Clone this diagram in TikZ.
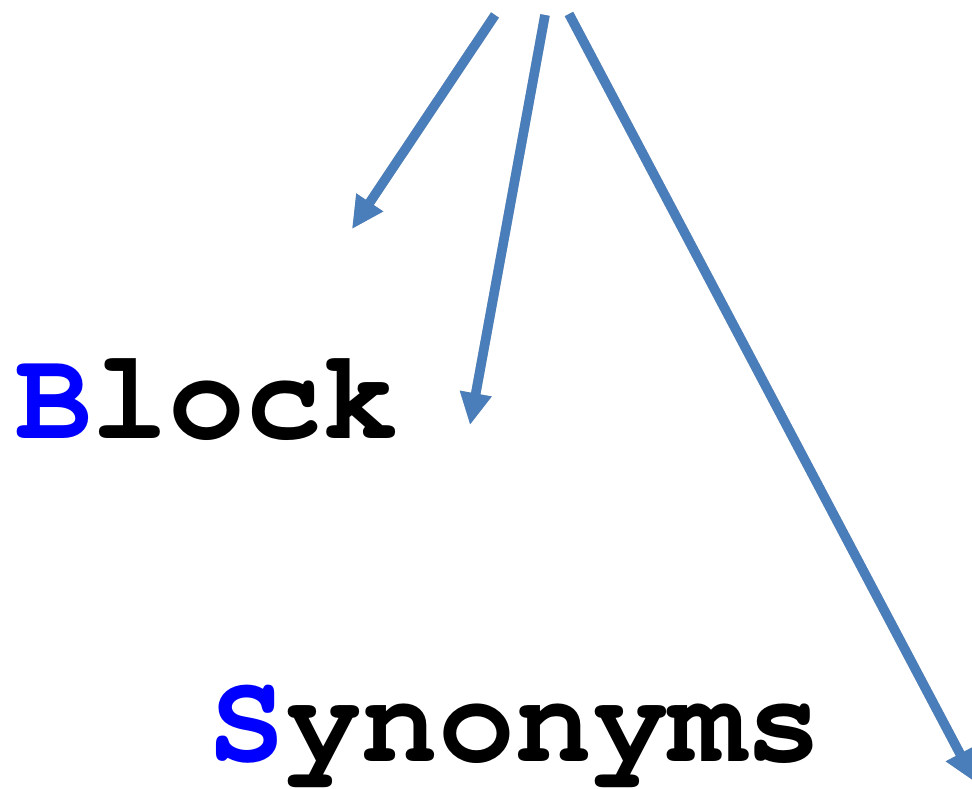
\documentclass[tikz,border=0pt]{standalone}
\usepackage{fontspec}
\setmonofont{TeX Gyre Cursor}
\usetikzlibrary{arrows.meta}
\definecolor{arrowblue}{RGB}{74,126,187}
\definecolor{letterblue}{RGB}{0,0,255}
\tikzset{
  arr/.style={draw=arrowblue, line width=9.5pt, -{Triangle[length=32pt,width=30pt]}},
  shad/.style={draw=gray!55, line width=9.5pt, -{Triangle[length=32pt,width=30pt]}, shift={(2pt,-2pt)}},
  word/.style={inner sep=0pt, anchor=base west, font=\ttfamily\bfseries\fontsize{128}{128}\selectfont}
}
\begin{document}
\begin{tikzpicture}[x=1pt,y=-1pt]
\useasboundingbox (0,0) rectangle (972,788);
\coordinate (s1) at (495,15);
\coordinate (e1) at (352,229);
\coordinate (s2) at (545,15);
\coordinate (e2) at (470,425);
\coordinate (s3) at (569,14);
\coordinate (e3) at (975,782);
\draw[shad] (s1) -- (e1);
\draw[shad] (s2) -- (e2);
\draw[shad] (s3) -- (e3);
\draw[arr] (s1) -- (e1);
\draw[arr] (s2) -- (e2);
\draw[arr] (s3) -- (e3);
\node[word] (block) at (15,438) {\textcolor{letterblue}{B}lock};
\node[word] (syn) at (208,761) {\textcolor{letterblue}{S}ynonyms};
\end{tikzpicture}
\end{document}
